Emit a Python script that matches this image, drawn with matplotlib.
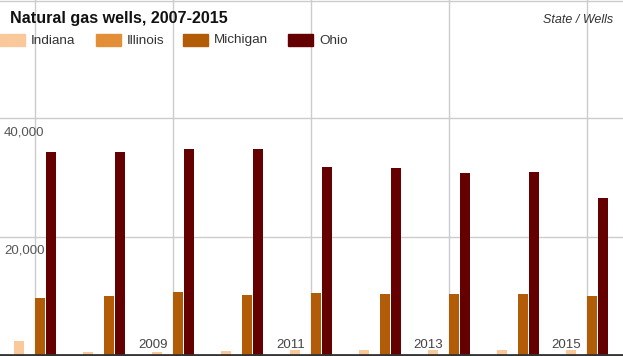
import matplotlib
matplotlib.use("Agg")
import matplotlib.pyplot as plt
from matplotlib.patches import Rectangle
import numpy as np

plt.rcParams.update({
    "font.family": ["Liberation Sans", "DejaVu Sans"],
    "figure.dpi": 100,
})

# data
years = [2007, 2008, 2009, 2010, 2011, 2012, 2013, 2014, 2015]
states = ["Indiana", "Illinois", "Michigan", "Ohio"]
indiana = [2400, 550, 550, 720, 890, 890, 890, 890, 890]
illinois = [0, 0, 0, 0, 0, 0, 0, 0, 0]
michigan = [9630, 9970, 10640, 10130, 10470, 10300, 10300, 10300, 9970]
ohio = [34340, 34340, 34840, 34840, 31810, 31480, 30640, 30970, 26440]
colors = ["#f9c99b", "#e38f3a", "#b25c08", "#650000"]
yticks = [20000, 40000]
labelled_years = [2009, 2011, 2013, 2015]

series = [indiana, illinois, michigan, ohio]

fig = plt.figure(figsize=(6.23, 3.56))
ax = fig.add_axes([0, 0, 1, 1])

x = np.arange(len(years))
width = 0.155
for k, (vals, col) in enumerate(zip(series, colors)):
    ax.bar(x + (k - 1.5) * width, vals, width * 0.93, color=col, zorder=3)

ax.set_xlim(-0.507, 8.522)
ax.set_ylim(-150, 59900)

# grid
for i, yr in enumerate(years):
    if i % 2 == 0:
        ax.axvline(i, color="#cccccc", lw=1, zorder=1)
for v in yticks + [59800]:
    ax.axhline(v, color="#cccccc", lw=1, zorder=1)
ax.axhline(0, color="#333333", lw=2, zorder=4, clip_on=False)

# y labels
for v in yticks:
    ax.annotate(f"{v:,}", xy=(0, v), xycoords=("axes fraction", "data"),
                xytext=(3, -6), textcoords="offset points", ha="left", va="top",
                fontsize=9.5, color="#555555")

# year labels
for yr in labelled_years:
    i = years.index(yr)
    ax.annotate(str(yr), xy=(i, 0), xytext=(-4, 3), textcoords="offset points",
                ha="right", va="bottom", fontsize=9.5, color="#444444", zorder=5)

for s in ax.spines.values():
    s.set_visible(False)
ax.set_xticks([]); ax.set_yticks([])

# title and legend
fig.text(10 / 623, 1 - 18.5 / 356, "Natural gas wells, 2007-2015", fontsize=11.6,
         fontweight="bold", color="#111111", va="center", ha="left")
fig.text(613 / 623, 1 - 20 / 356, "State / Wells", fontsize=9,
         style="italic", color="#333333", va="center", ha="right")

legend_x = [0, 96, 183, 288]
for lx, name, col in zip(legend_x, states, colors):
    fig.patches.append(Rectangle((lx / 623, 1 - 46 / 356), 25 / 623, 12 / 356,
                                 transform=fig.transFigure, color=col))
    fig.text((lx + 31) / 623, 1 - 40.5 / 356, name, fontsize=9.7,
             color="#333333", va="center", ha="left")

fig.savefig("out.png", dpi=100)
